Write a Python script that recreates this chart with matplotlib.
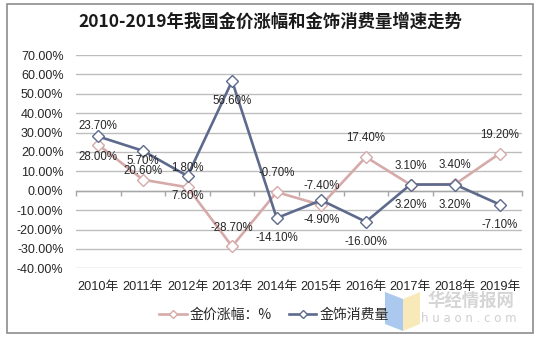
import matplotlib
matplotlib.use("Agg")
import matplotlib.pyplot as plt
from matplotlib.patches import Rectangle, Polygon
from matplotlib.transforms import blended_transform_factory

years = ["2010年", "2011年", "2012年", "2013年", "2014年",
         "2015年", "2016年", "2017年", "2018年", "2019年"]
price_growth = [23.7, 5.7, 1.8, -28.7, -0.7, -7.4, 17.4, 3.1, 3.4, 19.2]
jewelry_growth = [28.0, 20.6, 7.6, 56.6, -14.1, -4.9, -16.0, 3.2, 3.2, -7.1]
y_ticks = [70, 60, 50, 40, 30, 20, 10, 0, -10, -20, -30, -40]

PINK = "#D6AAA9"
BLUE = "#5D6A8C"
GRID = "#BDBDBD"
TEXT = "#262626"
CJK = ["Liberation Sans", "Noto Sans CJK SC", "DejaVu Sans"]

plt.rcParams["font.family"] = CJK

W, H = 541, 341
fig = plt.figure(figsize=(W / 100, H / 100), dpi=100)
fig.patch.set_facecolor("white")

# outer frame around the whole chart
fig.add_artist(Rectangle((7 / W, (H - 333) / H), 526 / W, 329 / H,
                         transform=fig.transFigure, fill=False,
                         edgecolor="#8C8C8C", linewidth=1.2))

ax = fig.add_axes([76 / W, (H - 268.3) / H, 446 / W, 213.3 / H])
x = list(range(len(years)))
ax.set_xlim(-0.5, len(years) - 0.5)
ax.set_ylim(-40, 70)

ax.set_yticks(y_ticks)
ax.set_yticklabels([f"{t:.2f}%" for t in y_ticks], fontsize=9, color=TEXT)
ax.tick_params(axis="y", length=0, pad=9)
ax.yaxis.grid(True, color=GRID, linewidth=1.0)
ax.set_axisbelow(True)

for side in ("left", "right", "top"):
    ax.spines[side].set_visible(False)
ax.spines["bottom"].set_position(("data", 0))
ax.spines["bottom"].set_color("#A6A6A6")
ax.spines["bottom"].set_linewidth(1.0)
ax.set_xticks([i - 0.5 for i in range(len(years) + 1)])
ax.set_xticklabels([])
ax.tick_params(axis="x", direction="out", length=3.5, color="#A6A6A6", width=1.0)

trans = blended_transform_factory(ax.transData, ax.transAxes)
for i, lab in enumerate(years):
    ax.annotate(lab, (i, 0), xycoords=trans, xytext=(0, -13.5),
                textcoords="offset points", ha="center", va="center",
                fontsize=9.2, color=TEXT)

ax.plot(x, price_growth, color=PINK, linewidth=1.9, marker="D",
        markersize=6, markerfacecolor="white", markeredgecolor=PINK,
        markeredgewidth=1.0, label="金价涨幅：%", zorder=3)
ax.plot(x, jewelry_growth, color=BLUE, linewidth=1.9, marker="D",
        markersize=6, markerfacecolor="white", markeredgecolor=BLUE,
        markeredgewidth=1.0, label="金饰消费量", zorder=4)

for i, v in enumerate(price_growth):
    ax.annotate(f"{v:.2f}%", (i, v), xytext=(0, 13.5), textcoords="offset points",
                ha="center", va="center", fontsize=8.3, color=TEXT, zorder=5)
for i, v in enumerate(jewelry_growth):
    ax.annotate(f"{v:.2f}%", (i, v), xytext=(0, -14.5), textcoords="offset points",
                ha="center", va="center", fontsize=8.3, color=TEXT, zorder=5)

fig.text(270 / W, 1 - 22 / H, "2010-2019年我国金价涨幅和金饰消费量增速走势",
         ha="center", va="center", fontsize=12.5, fontweight="bold",
         color="#1A1A1A", family=["Noto Sans CJK SC", "DejaVu Sans"])

leg = fig.legend(loc="center", bbox_to_anchor=(274 / W, 1 - 315 / H), ncol=2,
                 frameon=False, handlelength=2.0, markerscale=0.75,
                 handletextpad=0.2, columnspacing=1.2, labelcolor=TEXT,
                 prop={"family": ["Noto Sans CJK SC", "DejaVu Sans"], "size": 10})

# site logo in the lower right corner
fig.add_artist(Polygon([(385 / W, 1 - 292 / H), (403 / W, 1 - 299 / H),
                        (403 / W, 1 - 331 / H), (385 / W, 1 - 324 / H)],
                       closed=True, transform=fig.transFigure,
                       facecolor="#8FB6EA", edgecolor="none", alpha=0.75))
fig.add_artist(Polygon([(403 / W, 1 - 299 / H), (420 / W, 1 - 292 / H),
                        (420 / W, 1 - 324 / H), (403 / W, 1 - 331 / H)],
                       closed=True, transform=fig.transFigure,
                       facecolor="#F5E4A0", edgecolor="none", alpha=0.75))
fig.text(471 / W, 1 - 301 / H, "华经情报网", ha="center", va="center",
         fontsize=12.5, fontweight="bold", color="#C8C8C8", alpha=0.75,
         family=["Noto Sans CJK SC", "DejaVu Sans"])
fig.text(469 / W, 1 - 318 / H, "h u a o n . c o m", ha="center", va="center",
         fontsize=8.5, color="#CFCFCF", family=["DejaVu Sans"])

fig.savefig("out.png", dpi=100, facecolor="white")
